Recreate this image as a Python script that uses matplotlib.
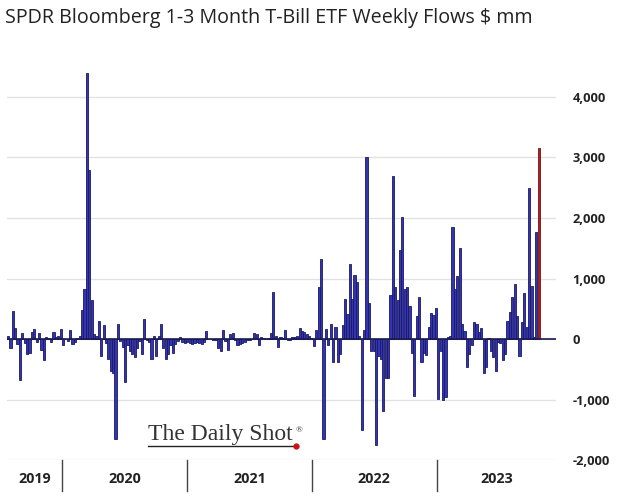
import numpy as np
import pandas as pd
import matplotlib
matplotlib.use("Agg")
import matplotlib.pyplot as plt
import matplotlib.dates as mdates
import matplotlib.transforms as mtransforms

plt.rcParams['font.family'] = ['Open Sans', 'DejaVu Sans']

# weekly flows, $ mm (Fridays, late Jul 2019 .. late Oct 2023)
flows_2019 = [60, -150, 470, 190, -80, -670, 110, -60, -250, -230, 120, 170,
              -40, 100, -180, -340, 30, 20, -50, 120, 30, 50, 170]
flows_2020 = [-100, 10, -30, 160, -80, -40, 20, 60, 480, 830,
              4400, 2800, 640, 90, 50, 300, -280, 240, -60, -330, -520, -550,
              -1650,
              250, -30, -120, -700, -100, -200, -250, -300, -150, -30, -250, 330,
              -10, -50, -330, 60, -280, 60, 250, -150, -330, -250, -100, -230,
              -80, -30, 30, -40, -60]
flows_2021 = [-40, -60, -70, -60, -50, -60, -70, -50, 130, 10, 10, -10, -20,
              -150, -200, 160, -30, -170, 90, 100, -20, -100, -80, -60, -40,
              -20, -10, 10, 100, 80, -100, 40, 20, 10, 20, 100,
              780, 60, -120, 40, 20, 160, -10, -10, 30, 40, 50, 180, 130, 120,
              80, 60, 20]
flows_2022 = [-110, 150, 860, 1320, -1650, 170, -100, 250, -380, 200, -380,
              -250, 230, 660, 420, 1250, 670, 1060, 940, 60, -1490, 160, 3000,
              600, -200, -200, -1750, -280, -330, -1180, -640, -640, 730, 2700,
              860, 650, 1480, 2020, 830, 870, 550, -230, -930, 390, 700, -370,
              -230, -260, 200, 440, 400, 520]
flows_2023 = [-980, -200, -1000, -960, 30, 60, 1850, 830, 1040, 1500, 260, 130,
              -450, -250, -100, 290, 250, 120, 180, -550, -450, 20, -200, -300,
              -520, -50, -60, -350, -250, 300, 450, 700, 920, 380, -280, 290,
              760, 200, 2500, 880, 30, 1770, 3150]

flows = flows_2019 + flows_2020 + flows_2021 + flows_2022 + flows_2023
weeks = pd.date_range('2019-07-26', periods=len(flows), freq='W-FRI')
years = ['2019', '2020', '2021', '2022', '2023']
yticks = [-2000, -1000, 0, 1000, 2000, 3000, 4000]

fig = plt.figure(figsize=(6.19, 4.96), dpi=100)
ax = fig.add_axes([0.0113, 0.0716, 0.8870, 0.7942])

colors = ['#3434b0'] * len(flows)
edges = ['#1a1a66'] * len(flows)
colors[-1] = '#b02020'
edges[-1] = '#7a1010'
ax.bar(weeks, flows, width=6.4, color=colors, edgecolor=edges, linewidth=0.6, zorder=3)

ax.axhline(0, color='#1a1a50', linewidth=1.2, zorder=4)

x_left = mdates.date2num(pd.Timestamp('2019-07-23'))
x_right = x_left + 1608
ax.set_xlim(x_left, x_right)
ax.set_ylim(-2000, 4500)

ax.set_yticks(yticks)
ax.set_yticklabels([f'{v:,}' for v in yticks], fontsize=9.3, fontweight='bold', color='#222222')
ax.yaxis.tick_right()
ax.tick_params(axis='y', length=0, pad=12)
for lab in ax.get_yticklabels():
    lab.set_horizontalalignment('left')
ax.set_xticks([])
ax.grid(axis='y', color='#e2e2e2', linewidth=1.0, zorder=0)
for s in ax.spines.values():
    s.set_visible(False)

# year dividers and labels under the axis
trans = mtransforms.blended_transform_factory(ax.transData, ax.transAxes)
bounds = [x_left] + [mdates.date2num(pd.Timestamp(f'{y}-01-01')) for y in years[1:]] + [x_right]
for b in bounds[1:-1]:
    ax.plot([b, b], [0.0, -0.078], transform=trans, color='#444444', linewidth=1.0, clip_on=False)
for i, y in enumerate(years):
    ax.text((bounds[i] + bounds[i + 1]) / 2, -0.048, y, transform=trans, ha='center', va='center',
            fontsize=10.3, fontweight='bold', color='#222222')

fig.text(0.008, 0.964, 'SPDR Bloomberg 1-3 Month T-Bill ETF Weekly Flows $ mm',
         fontsize=14.2, color='#222222', ha='left', va='center')

# watermark
fig.text(0.239, 0.113, 'The Daily Shot', family='Liberation Serif', fontsize=17,
         color='#333333', ha='left', va='baseline')
fig.text(0.478, 0.128, '®', family='Liberation Serif', fontsize=6.5, color='#333333')
fig.add_artist(plt.Line2D([0.239, 0.478], [0.101, 0.101], color='#222222', linewidth=1.0))
fig.add_artist(plt.Line2D([0.478], [0.101], marker='o', markersize=3.5, color='#d01010', linestyle='none'))

fig.savefig('out.png', dpi=100, facecolor='white')
